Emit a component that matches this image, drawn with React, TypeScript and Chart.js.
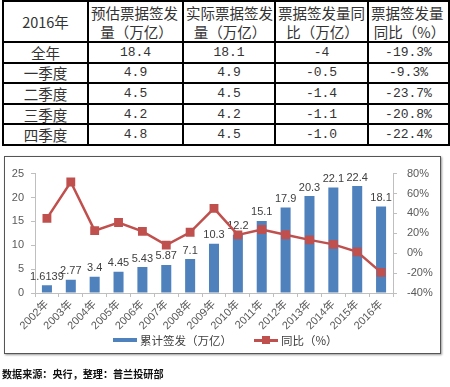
import React, { useEffect, useRef } from "react";
import { Chart, registerables } from "chart.js";

Chart.register(...registerables);

// ---- table data ----
const tableHeaderLines = [
  ["2016年"],
  ["预估票据签发", "量（万亿）"],
  ["实际票据签发", "量（万亿）"],
  ["票据签发量同", "比（万亿）"],
  ["票据签发量", "同比（%）"],
];
const periods = ["全年", "一季度", "二季度", "三季度", "四季度"];
const estimated = ["18.4", "4.9", "4.5", "4.2", "4.8"];
const actual = ["18.1", "4.9", "4.5", "4.2", "4.5"];
const yoyAmount = ["-4", "-0.5", "-1.4", "-1.1", "-1.0"];
const yoyPct = ["-19.3%", "-9.3%", "-23.7%", "-20.8%", "-22.4%"];

// ---- chart data ----
const years = [
  "2002年", "2003年", "2004年", "2005年", "2006年", "2007年", "2008年", "2009年",
  "2010年", "2011年", "2012年", "2013年", "2014年", "2015年", "2016年",
];
const issued = [1.6139, 2.77, 3.4, 4.45, 5.43, 5.87, 7.1, 10.3, 12.2, 15.1, 17.9, 20.3, 22.1, 22.4, 18.1];
const issuedLabels = ["1.6139", "2.77", "3.4", "4.45", "5.43", "5.87", "7.1", "10.3", "12.2", "15.1", "17.9", "20.3", "22.1", "22.4", "18.1"];
const yoy = [35, 71.6, 22.7, 30.9, 22, 8.1, 21, 45, 18.4, 23.8, 18.5, 13.4, 8.9, 1.4, -19.3];

const barLabel = "累计签发（万亿）";
const lineLabel = "同比（%）";
const footer = "数据来源：央行，整理：普兰投研部";

const BLUE = "#4F81BD";
const RED = "#C0504D";
const AXIS = "#BFBFBF";
const TICK_COLOR = "#595959";

const colWidths = [85, 95, 92, 93, 81];

export default function App() {
  const canvasRef = useRef<HTMLCanvasElement | null>(null);

  useEffect(() => {
    const canvas = canvasRef.current;
    if (!canvas) return;

    const barLabelsPlugin = {
      id: "barLabels",
      afterDatasetDraw(chart: any, args: any) {
        if (args.index !== 1) return;
        const meta = chart.getDatasetMeta(1);
        const ctx = chart.ctx;
        ctx.save();
        ctx.font = "11px 'Liberation Sans', Arial, sans-serif";
        ctx.fillStyle = "#404040";
        ctx.textAlign = "center";
        ctx.textBaseline = "bottom";
        meta.data.forEach((bar: any, i: number) => {
          ctx.fillText(issuedLabels[i], bar.x, bar.y - 3);
        });
        ctx.restore();
      },
    };

    const chart = new Chart(canvas, {
      type: "bar",
      data: {
        labels: years,
        datasets: [
          {
            type: "line",
            label: lineLabel,
            data: yoy,
            yAxisID: "y1",
            borderColor: RED,
            backgroundColor: RED,
            borderWidth: 2.5,
            pointStyle: "rect",
            pointRadius: 4.5,
            pointBackgroundColor: RED,
            pointBorderColor: RED,
            tension: 0,
            order: 0,
          } as any,
          {
            type: "bar",
            label: barLabel,
            data: issued,
            yAxisID: "y",
            backgroundColor: BLUE,
            borderWidth: 0,
            barPercentage: 0.42,
            categoryPercentage: 1,
            order: 1,
          } as any,
        ],
      },
      options: {
        responsive: false,
        animation: false,
        layout: { padding: { top: 10, left: 0, right: 0, bottom: 0 } },
        plugins: {
          legend: { display: false },
          tooltip: { enabled: false },
        },
        scales: {
          x: {
            offset: true,
            grid: {
              display: true,
              drawOnChartArea: false,
              drawTicks: true,
              tickLength: 4,
              color: AXIS,
              offset: true,
            },
            border: { display: true, color: AXIS },
            ticks: {
              minRotation: 45,
              maxRotation: 45,
              autoSkip: false,
              padding: 1,
              color: TICK_COLOR,
              font: { family: "'Liberation Sans', 'Noto Sans CJK SC', sans-serif", size: 11 },
            },
            afterFit(scale: any) {
              scale.height = 60;
            },
          },
          y: {
            position: "left",
            min: 0,
            max: 25,
            ticks: {
              stepSize: 5,
              padding: 7,
              color: TICK_COLOR,
              font: { family: "'Liberation Sans', sans-serif", size: 11 },
            },
            grid: {
              display: true,
              drawOnChartArea: false,
              drawTicks: true,
              tickLength: 4,
              color: AXIS,
            },
            border: { display: true, color: AXIS },
            afterFit(scale: any) {
              scale.width = 30;
            },
          },
          y1: {
            position: "right",
            min: -40,
            max: 80,
            ticks: {
              stepSize: 20,
              padding: 10,
              color: TICK_COLOR,
              font: { family: "'Liberation Sans', sans-serif", size: 11 },
              callback: (v: any) => v + "%",
            },
            grid: {
              display: true,
              drawOnChartArea: false,
              drawTicks: true,
              tickLength: 4,
              color: AXIS,
            },
            border: { display: true, color: AXIS },
            afterFit(scale: any) {
              scale.width = 47;
            },
          },
        },
      },
      plugins: [barLabelsPlugin],
    });

    return () => chart.destroy();
  }, []);

  const cellBase: React.CSSProperties = {
    border: "2px solid #000",
    padding: 0,
    textAlign: "center",
    verticalAlign: "middle",
    color: "#333",
  };
  const cjkFont = "'Noto Sans CJK SC', sans-serif";
  const numFont = "'Liberation Mono', 'Noto Sans CJK SC', monospace";

  const rows = periods.map((p, i) => [p, estimated[i], actual[i], yoyAmount[i], yoyPct[i]]);

  return (
    <div
      style={{
        position: "absolute",
        left: 0,
        top: 0,
        width: 450,
        height: 387,
        background: "#fff",
        overflow: "hidden",
      }}
    >
      <table
        style={{
          position: "absolute",
          left: 2,
          top: 0,
          width: 446,
          height: 146,
          borderCollapse: "collapse",
          tableLayout: "fixed",
        }}
      >
        <colgroup>
          {colWidths.map((w, i) => (
            <col key={i} style={{ width: w }} />
          ))}
        </colgroup>
        <tbody>
          <tr style={{ height: 41 }}>
            {tableHeaderLines.map((lines, i) => (
              <td
                key={i}
                style={{
                  ...cellBase,
                  fontFamily: cjkFont,
                  fontSize: 14.5,
                  lineHeight: "19px",
                  textAlign: i === 0 ? "center" : "left",
                  paddingLeft: i === 0 ? 0 : 2,
                  whiteSpace: "nowrap",
                }}
              >
                {lines.map((l, j) => (
                  <div key={j} style={{ textAlign: i === 0 ? "center" : j === 0 ? "left" : "center" }}>
                    {l}
                  </div>
                ))}
              </td>
            ))}
          </tr>
          {rows.map((r, i) => (
            <tr key={i} style={{ height: 20.6 }}>
              {r.map((c, j) => (
                <td
                  key={j}
                  style={{
                    ...cellBase,
                    fontFamily: j === 0 ? cjkFont : numFont,
                    fontSize: j === 0 ? 14.5 : 13,
                    lineHeight: "17px",
                  }}
                >
                  {c}
                </td>
              ))}
            </tr>
          ))}
        </tbody>
      </table>

      <div
        style={{
          position: "absolute",
          left: 4,
          top: 156,
          width: 435,
          height: 196,
          border: "1px solid #555",
          boxShadow: "1px 1px 2px #999",
          background: "#fff",
        }}
      >
        <canvas ref={canvasRef} width={435} height={196} style={{ display: "block" }} />
        <div
          style={{
            position: "absolute",
            left: 108,
            top: 176,
            height: 14,
            display: "flex",
            alignItems: "center",
            fontFamily: cjkFont,
            fontSize: 11.5,
            color: "#404040",
            whiteSpace: "nowrap",
          }}
        >
          <span style={{ display: "inline-block", width: 24, height: 4, background: BLUE, marginRight: 3 }} />
          <span>{barLabel}</span>
          <span
            style={{
              position: "relative",
              display: "inline-block",
              width: 24,
              height: 8,
              marginLeft: 22,
              marginRight: 3,
            }}
          >
            <span
              style={{
                position: "absolute",
                left: 0,
                top: 3,
                width: 24,
                height: 2.5,
                background: RED,
              }}
            />
            <span
              style={{
                position: "absolute",
                left: 8,
                top: 0,
                width: 8,
                height: 8,
                background: RED,
              }}
            />
          </span>
          <span>{lineLabel}</span>
        </div>
      </div>

      <div
        style={{
          position: "absolute",
          left: 2,
          top: 367,
          fontFamily: cjkFont,
          fontWeight: 700,
          fontSize: 10.1,
          lineHeight: "14px",
          color: "#111",
          whiteSpace: "nowrap",
        }}
      >
        {footer}
      </div>
    </div>
  );
}
